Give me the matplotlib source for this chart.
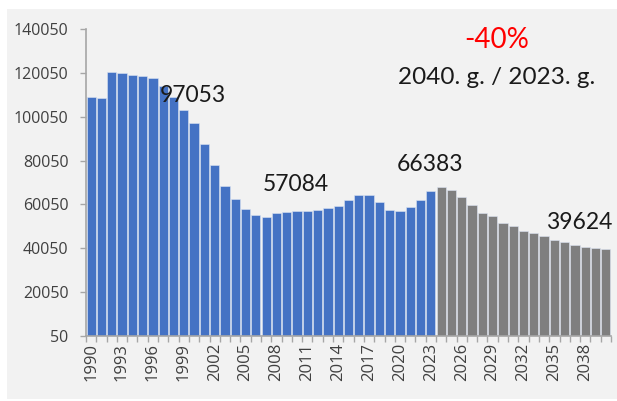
import matplotlib
matplotlib.use("Agg")
import matplotlib.pyplot as plt
from matplotlib.patches import Rectangle
import numpy as np

years = list(range(1990, 2041))
values = [108900, 108700, 120300, 120100, 119300, 118600, 117700, 114050, 109000, 103100,
          97053, 87450, 78000, 68600, 62500, 57800, 55200, 54450, 56000, 56750,
          57084, 56900, 57350, 58250, 59450, 62050, 64350, 64200, 61150, 57500,
          56950, 59000, 62200, 66383, 67990, 66630, 63440, 59900, 56300, 54900,
          51600, 50350, 47950, 47000, 45800, 43800, 42900, 41700, 40600, 40200,
          39624]
last_actual = 2023
yticks = [50, 20050, 40050, 60050, 80050, 100050, 120050, 140050]
labels_ann = {2000: "97053", 2010: "57084", 2023: "66383", 2040: "39624"}

blue = "#4472C4"
gray = "#7F7F7F"
bg = "#F2F2F2"

fig = plt.figure(figsize=(6.17, 4.01), dpi=100)
fig.patch.set_facecolor("white")
fig.patches.append(Rectangle((7/617, 2/401), 610/617, 390/401, transform=fig.transFigure,
                             facecolor=bg, edgecolor="none", zorder=-10))
ax = fig.add_axes([86/617, 1-336/401, (611-86)/617, (336-29)/401])
ax.set_facecolor(bg)

x = np.arange(len(years))
colors = [blue if y <= last_actual else gray for y in years]
ax.bar(x, values, width=0.9, color=colors, edgecolor="#DCE4F2", linewidth=0.4, bottom=0)

ax.set_ylim(50, 140050)
ax.set_xlim(-0.5, len(years) - 0.5)
ax.set_yticks(yticks)
ax.set_yticklabels([str(v) for v in yticks], fontsize=11.5, color="#404040", family="Open Sans")
ax.tick_params(axis="y", length=4.5, width=1, color="#A6A6A6", pad=8)

ax.set_xticks(np.arange(-0.5, len(years), 1), minor=True)
ax.set_xticks(x[::3])
ax.set_xticklabels([str(y) for y in years[::3]], rotation=90, fontsize=12,
                   color="#404040", family="Open Sans")
ax.tick_params(axis="x", which="major", length=0, pad=5)
ax.tick_params(axis="x", which="minor", length=4.5, width=1, color="#A6A6A6")

for s in ["top", "right"]:
    ax.spines[s].set_visible(False)
for s in ["left", "bottom"]:
    ax.spines[s].set_color("#A6A6A6")
    ax.spines[s].set_linewidth(1.2)

ann_pos = {2000: (193, 95), 2010: (296, 184), 2023: (430, 164), 2040: (579, 222)}
for yr, txt in labels_ann.items():
    px, py = ann_pos[yr]
    fig.text(px/617, 1-py/401, txt, fontsize=16.5, family="Lato", color="#1a1a1a",
             ha="center", va="center")

fig.text(497/617, 1-40/401, "-40%", fontsize=20, family="Lato", color="#FF0000",
         ha="center", va="center")
fig.text(497/617, 1-77/401, "2040. g. / 2023. g.", fontsize=17.5, family="Lato",
         color="#1a1a1a", ha="center", va="center")

fig.savefig("out.png", dpi=100, facecolor=fig.get_facecolor())
